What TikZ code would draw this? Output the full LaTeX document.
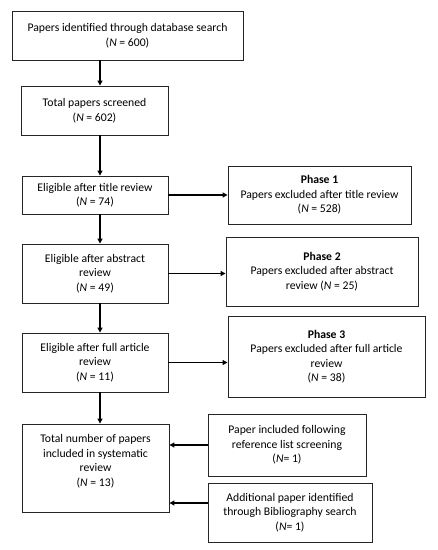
\documentclass[tikz,border=0pt]{standalone}
\usepackage{fontspec}
\setmainfont{Carlito}
\usetikzlibrary{arrows.meta}
\begin{document}
\begin{tikzpicture}[x=1pt,y=-1pt,
  box/.style={draw=black!85, line width=0.9pt, align=center, inner sep=2pt,
    font=\fontsize{11.7}{14.5}\selectfont},
  lbl/.style={align=center, inner sep=0pt, font=\fontsize{11.7}{14.5}\selectfont},
  arr/.style={-{Triangle[length=5pt,width=5pt]}, line width=1.2pt, black}]
\useasboundingbox[fill=white] (0,0) rectangle (438,550);
\node[box, minimum width=231, minimum height=49] (b1) at (127.5,35.5)
  {Papers identified through database search\\(\emph{N} = 600)};
\node[box, minimum width=147, minimum height=49] (b2) at (94.5,110.5)
  {Total papers screened\\(\emph{N} = 602)};
\node[box, minimum width=146, minimum height=38] (b3) at (95,195)
  {Eligible after title review\\(\emph{N} = 74)};
\node[box, minimum width=183, minimum height=58] (p1) at (319.5,195)
  {\textbf{Phase 1}\\Papers excluded after title review\\(\emph{N} = 528)};
\node[box, minimum width=146, minimum height=59] (b4) at (95,273.5)
  {Eligible after abstract\\review\\(\emph{N} = 49)};
\node[box, minimum width=192, minimum height=69] (p2) at (322,271.5)
  {\textbf{Phase 2}\\Papers excluded after abstract\\review (\emph{N} = 25)};
\node[box, minimum width=146, minimum height=59] (b5) at (95,362.5)
  {Eligible after full article\\review\\(\emph{N} = 11)};
\node[box, minimum width=197, minimum height=81] (p3) at (326.5,356.5)
  {\textbf{Phase 3}\\Papers excluded after full article\\review\\(\emph{N} = 38)};
\node[box, minimum width=147, minimum height=88] (b6) at (95.5,468) {};
\node[lbl] (b6t) at (95.5,461)
  {Total number of papers\\included in systematic\\review\\(\emph{N} = 13)};
\node[box, minimum width=158, minimum height=62] (b7) at (287,445)
  {Paper included following\\reference list screening\\(\emph{N}= 1)};
\node[box, minimum width=164, minimum height=59] (b8) at (290,512.5)
  {Additional paper identified\\through Bibliography search\\(\emph{N}= 1)};
\coordinate (ax) at (100,0);
\coordinate (a8) at (0,503);
\draw[arr] (b1.south -| ax) -- (b2.north -| ax);
\draw[arr] (b2.south -| ax) -- (b3.north -| ax);
\draw[arr] (b3.south -| ax) -- (b4.north -| ax);
\draw[arr] (b4.south -| ax) -- (b5.north -| ax);
\draw[arr] (b5.south -| ax) -- (b6.north -| ax);
\draw[arr] (b3.east) -- (p1.west |- b3.east);
\draw[arr] (b4.east) -- (p2.west |- b4.east);
\draw[arr] (b5.east) -- (p3.west |- b5.east);
\draw[arr] (b7.west) -- (b6.east |- b7.west);
\draw[arr] (b8.west |- a8) -- (b6.east |- a8);
\end{tikzpicture}
\end{document}
